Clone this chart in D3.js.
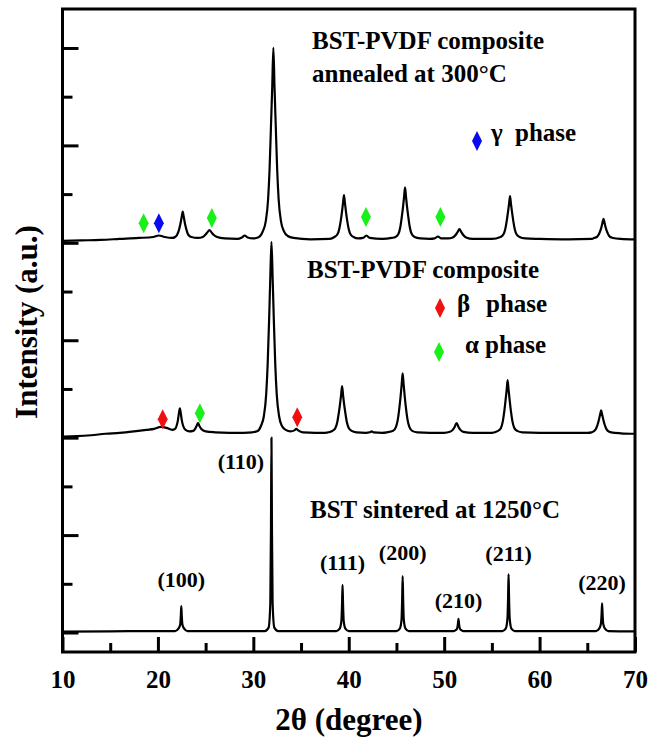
<!DOCTYPE html>
<html>
<head>
<meta charset="utf-8">
<script src="https://cdn.jsdelivr.net/npm/d3@7"></script>
<style>
  html, body { margin: 0; padding: 0; background: #fff; }
  svg text { font-family: "Liberation Serif", "Times New Roman", "DejaVu Serif", serif !important; font-weight: bold; fill: #000; }
</style>
</head>
<body>
<svg id="chart" width="651" height="742"></svg>
<script>
// ---------------- DATA ----------------
const xMajorTicks = [10, 20, 30, 40, 50, 60, 70];
const xMinorTicks = [15, 25, 35, 45, 55, 65];
const yMajorTicks = [0, 1, 2, 3, 4, 5, 6];
const yMinorTicks = [0.5, 1.5, 2.5, 3.5, 4.5, 5.5];

// BST sintered at 1250°C  [2θ, intensity]
const bstSeries = [
  [10,0.010],[15,0.012],[20,0.015],
  [21.8,0.015],[22.15,0.04],[22.33,0.08],[22.4,0.17],[22.45,0.27],[22.5,0.17],[22.57,0.08],[22.75,0.04],[23.1,0.015],
  [27,0.015],
  [31.2,0.015],[31.6,0.05],[31.78,0.3],[31.85,1.1],[31.9,2.0],[31.95,1.1],[32.02,0.3],[32.2,0.05],[32.6,0.015],
  [35.5,0.015],
  [38.7,0.015],[39.05,0.04],[39.23,0.12],[39.3,0.3],[39.35,0.49],[39.4,0.3],[39.47,0.12],[39.65,0.04],[40.0,0.015],
  [42.5,0.015],
  [45.0,0.015],[45.35,0.04],[45.53,0.13],[45.6,0.35],[45.65,0.58],[45.7,0.35],[45.77,0.13],[45.95,0.04],[46.3,0.015],
  [48.5,0.015],
  [51.0,0.015],[51.3,0.03],[51.42,0.07],[51.5,0.14],[51.58,0.07],[51.7,0.03],[52.0,0.015],
  [54,0.015],
  [56.1,0.015],[56.45,0.04],[56.63,0.14],[56.7,0.36],[56.75,0.6],[56.8,0.36],[56.87,0.14],[57.05,0.04],[57.4,0.015],
  [61,0.015],
  [65.9,0.015],[66.25,0.04],[66.43,0.09],[66.5,0.19],[66.55,0.3],[66.6,0.19],[66.67,0.09],[66.85,0.04],[67.2,0.015],
  [70,0.012]
];

// BST-PVDF composite
const compositeSeries = [
  [10,2.01],[11.5,2.015],[13,2.025],[14.5,2.04],[16,2.05],[17.5,2.065],[18.8,2.08],[19.6,2.09],[20.3,2.11],[20.9,2.1],[21.5,2.08],
  [21.8,2.09],[21.95,2.12],[22.1,2.18],[22.2,2.25],[22.3,2.30],[22.4,2.25],[22.5,2.18],[22.65,2.12],[22.9,2.08],[23.3,2.065],[23.7,2.07],
  [23.9,2.09],[24.05,2.12],[24.2,2.15],[24.35,2.12],[24.55,2.09],[25,2.065],[26,2.055],[27.5,2.05],[29,2.05],[29.9,2.055],
  [30.4,2.065],[30.8,2.12],[31.1,2.22],[31.35,2.45],[31.5,2.75],[31.65,3.2],[31.78,3.65],[31.9,4.01],[32.02,3.65],[32.15,3.2],[32.3,2.75],[32.45,2.45],[32.7,2.22],[33.0,2.12],[33.4,2.08],[33.9,2.065],
  [34.3,2.075],[34.5,2.09],[34.7,2.075],[35.2,2.055],[36.5,2.05],[37.5,2.05],
  [37.9,2.055],[38.3,2.07],[38.6,2.1],[38.8,2.16],[38.95,2.25],[39.08,2.34],[39.2,2.44],[39.3,2.53],[39.4,2.44],[39.52,2.34],[39.65,2.25],[39.8,2.16],[40.0,2.1],[40.3,2.07],[40.8,2.055],[41.8,2.05],
  [42.2,2.055],[42.4,2.065],[42.6,2.055],[43.5,2.05],[44.0,2.055],
  [44.65,2.07],[44.95,2.11],[45.15,2.19],[45.3,2.3],[45.43,2.42],[45.55,2.55],[45.65,2.66],[45.75,2.55],[45.87,2.42],[46.0,2.3],[46.15,2.19],[46.35,2.11],[46.65,2.07],[47.2,2.055],[48.5,2.05],[50.0,2.05],
  [50.6,2.06],[50.9,2.08],[51.1,2.11],[51.3,2.15],[51.5,2.11],[51.7,2.08],[52.0,2.06],[53,2.05],[55,2.05],
  [55.65,2.07],[55.95,2.1],[56.15,2.17],[56.3,2.27],[56.43,2.38],[56.55,2.49],[56.65,2.59],[56.75,2.49],[56.87,2.38],[57.0,2.27],[57.15,2.17],[57.35,2.1],[57.65,2.07],[58.2,2.055],[60,2.05],[63,2.05],[65,2.05],
  [65.45,2.055],[65.75,2.07],[65.95,2.1],[66.1,2.14],[66.23,2.19],[66.35,2.24],[66.45,2.28],[66.55,2.24],[66.67,2.19],[66.8,2.14],[66.95,2.1],[67.15,2.07],[67.5,2.055],[68.5,2.045],[70,2.04]
];

// BST-PVDF composite annealed at 300°C
const annealedSeries = [
  [10,4.02],[12,4.025],[14,4.03],[16,4.04],[18,4.05],[19.5,4.06],[20.1,4.075],[20.7,4.06],[21.5,4.05],
  [21.8,4.06],[22.0,4.08],[22.2,4.13],[22.35,4.19],[22.5,4.27],[22.6,4.32],[22.7,4.27],[22.85,4.19],[23.0,4.13],[23.2,4.08],[23.5,4.06],[24.2,4.05],
  [24.7,4.06],[25.0,4.085],[25.2,4.11],[25.4,4.13],[25.6,4.11],[25.8,4.085],[26.2,4.06],[27,4.045],[28.3,4.04],
  [28.8,4.055],[29.1,4.075],[29.4,4.055],[30,4.045],
  [30.6,4.06],[31.0,4.12],[31.3,4.22],[31.55,4.45],[31.7,4.75],[31.85,5.2],[31.98,5.6],[32.1,6.0],[32.22,5.6],[32.35,5.2],[32.5,4.75],[32.65,4.45],[32.9,4.22],[33.2,4.12],[33.6,4.07],[34.2,4.05],[36,4.035],[38,4.04],
  [38.5,4.06],[38.8,4.085],[39.0,4.14],[39.15,4.22],[39.28,4.31],[39.4,4.41],[39.5,4.49],[39.6,4.41],[39.72,4.31],[39.85,4.22],[40.0,4.14],[40.2,4.085],[40.5,4.06],[41.0,4.045],
  [41.5,4.05],[41.85,4.075],[42.2,4.05],[43.5,4.04],[44.5,4.05],
  [44.9,4.06],[45.2,4.09],[45.4,4.16],[45.55,4.26],[45.68,4.36],[45.8,4.475],[45.9,4.57],[46.0,4.475],[46.12,4.36],[46.25,4.26],[46.4,4.16],[46.6,4.09],[46.9,4.06],[47.5,4.045],[48.5,4.04],
  [49.0,4.045],[49.35,4.065],[49.7,4.045],[50.4,4.045],
  [50.9,4.055],[51.2,4.08],[51.4,4.11],[51.6,4.14],[51.8,4.11],[52.0,4.08],[52.3,4.055],[53,4.04],[55,4.04],
  [55.9,4.06],[56.2,4.085],[56.4,4.14],[56.55,4.22],[56.68,4.31],[56.8,4.40],[56.9,4.48],[57.0,4.40],[57.12,4.31],[57.25,4.22],[57.4,4.14],[57.6,4.085],[57.9,4.06],[58.5,4.045],[60,4.04],[63,4.035],[65.5,4.04],
  [65.7,4.05],[66.0,4.06],[66.2,4.085],[66.35,4.12],[66.48,4.16],[66.6,4.21],[66.7,4.245],[66.8,4.21],[66.92,4.16],[67.05,4.12],[67.2,4.085],[67.4,4.06],[67.7,4.05],[68.5,4.04],[70,4.035]
];

// phase markers [2θ, intensity]
const alphaMarks = [[18.5,4.20],[25.65,4.255],[41.8,4.265],[49.6,4.265],[24.4,2.25]];
const betaMarks  = [[20.5,2.19],[34.6,2.21]];
const gammaMarks = [[20.1,4.20]];

// hkl labels for BST [label, 2θ, label intensity]
const hklLabels = [
  ["(100)", 22.45, 0.47],
  ["(110)", 28.7, 1.68],
  ["(111)", 39.35, 0.64],
  ["(200)", 45.65, 0.74],
  ["(210)", 51.5, 0.25],
  ["(211)", 56.75, 0.73],
  ["(220)", 66.55, 0.44]
];

const colors = { alpha: "#19f019", beta: "#f01010", gamma: "#0a0aee" };
const FONT = "'Liberation Serif', 'Times New Roman', 'DejaVu Serif', serif";

// ---------------- CHART ----------------
const svg = d3.select("#chart");
const x = d3.scaleLinear().domain([10, 70]).range([62.5, 635]);
const y = d3.scaleLinear().domain([-0.2, 6.4]).range([652, 9]);

svg.append("defs").append("clipPath").attr("id", "plotclip")
  .append("rect").attr("x", 62.5).attr("y", 9).attr("width", 635 - 62.5).attr("height", 652 - 9);

const line = d3.line().x(d => x(d[0])).y(d => y(d[1])).curve(d3.curveMonotoneX);

const g = svg.append("g").attr("clip-path", "url(#plotclip)");
[bstSeries, compositeSeries, annealedSeries].forEach(s => {
  g.append("path").datum(s).attr("d", line)
    .attr("fill", "none").attr("stroke", "#000").attr("stroke-width", 2.2)
    .attr("stroke-linejoin", "round");
});

// axes
function styleAxis(sel) {
  sel.attr("font-family", FONT);
  sel.select(".domain").remove();
  sel.selectAll(".tick line").attr("stroke", "#000").attr("stroke-width", 3);
}
svg.append("g").attr("transform", "translate(0,652)")
  .call(d3.axisBottom(x).tickValues(xMajorTicks).tickSize(-15).tickPadding(18).tickFormat(d3.format("d")))
  .call(styleAxis)
  .call(s => s.selectAll("text").attr("font-size", 25).attr("font-weight", "bold").attr("fill", "#000"));
svg.append("g").attr("transform", "translate(0,652)")
  .call(d3.axisBottom(x).tickValues(xMinorTicks).tickSize(-9).tickFormat(""))
  .call(styleAxis);
svg.append("g").attr("transform", "translate(62.5,0)")
  .call(d3.axisLeft(y).tickValues(yMajorTicks).tickSize(-16).tickFormat(""))
  .call(styleAxis);
svg.append("g").attr("transform", "translate(62.5,0)")
  .call(d3.axisLeft(y).tickValues(yMinorTicks).tickSize(-10).tickFormat(""))
  .call(styleAxis);

// frame
svg.append("rect").attr("x", 62.5).attr("y", 9).attr("width", 635 - 62.5).attr("height", 652 - 9)
  .attr("fill", "none").attr("stroke", "#000").attr("stroke-width", 3);

// diamond markers
const diamond = "M0,-10L5,0L0,10L-5,0Z";
function drawMarks(data, color) {
  svg.append("g").selectAll("path").data(data).join("path")
    .attr("d", diamond)
    .attr("transform", d => `translate(${x(d[0])},${y(d[1])})`)
    .attr("fill", color);
}
drawMarks(alphaMarks, colors.alpha);
drawMarks(betaMarks, colors.beta);
drawMarks(gammaMarks, colors.gamma);

// annotations
function txt(t, px, py, size, anchor) {
  return svg.append("text").attr("x", px).attr("y", py).attr("font-size", size)
    .attr("font-family", FONT).attr("font-weight", "bold")
    .attr("text-anchor", anchor || "start").text(t);
}
txt("BST-PVDF composite", 312, 49, 25);
txt("annealed at 300°C", 312, 82, 25);
txt("BST-PVDF composite", 307, 278, 25);
txt("BST sintered at 1250°C", 310, 518, 25);

// phase legend
svg.append("path").attr("d", diamond).attr("transform", "translate(477,141)").attr("fill", colors.gamma);
txt("γ", 491, 141, 25);
txt("phase", 515, 141, 25);
svg.append("path").attr("d", diamond).attr("transform", "translate(440,308)").attr("fill", colors.beta);
txt("β", 457, 312, 25);
txt("phase", 486, 312, 25);
svg.append("path").attr("d", diamond).attr("transform", "translate(439,352)").attr("fill", colors.alpha);
txt("α", 465, 353, 25);
txt("phase", 485, 353, 25);

// hkl labels
svg.append("g").selectAll("text").data(hklLabels).join("text")
  .attr("x", d => x(d[1])).attr("y", d => y(d[2]))
  .attr("text-anchor", "middle").attr("font-size", 22)
  .attr("font-family", FONT).attr("font-weight", "bold")
  .text(d => d[0]);

// axis titles
svg.append("text").attr("transform", "translate(37,322) rotate(-90)")
  .attr("text-anchor", "middle").attr("font-size", 31)
  .attr("font-family", FONT).attr("font-weight", "bold").text("Intensity (a.u.)");
svg.append("text").attr("x", 349).attr("y", 730)
  .attr("text-anchor", "middle").attr("font-size", 31)
  .attr("font-family", FONT).attr("font-weight", "bold").text("2θ (degree)");
</script>
</body>
</html>
